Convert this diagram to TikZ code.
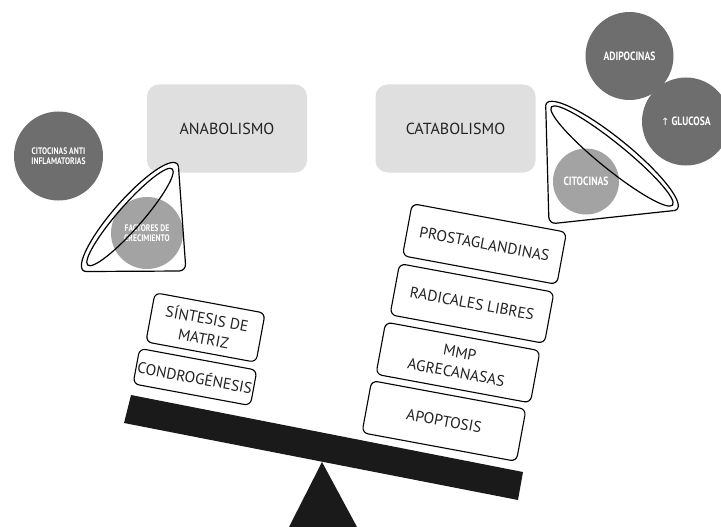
\documentclass[tikz,border=0pt]{standalone}
\usepackage{fontspec}
\setmainfont{PT Sans}
\newfontfamily\narrowfont[FakeStretch=0.8]{PT Sans Bold}
\newfontfamily\symfont{DejaVu Sans}
\definecolor{boxgray}{HTML}{DFDFDF}
\definecolor{darkcirc}{HTML}{6E6E6E}
\definecolor{lightcirc}{HTML}{A3A3A3}
\definecolor{beamcol}{HTML}{1A1A1A}
\definecolor{txt}{HTML}{222222}
\begin{document}
\begin{tikzpicture}[x=1pt,y=-1pt,
  headbox/.style={fill=boxgray, rounded corners=12pt, minimum width=160pt, minimum height=88pt, text=txt, font=\fontsize{16}{18}\selectfont},
  tiltbox/.style={draw=black, line width=1.1pt, fill=white, rounded corners=6pt, rotate=-10.5, align=center, text=txt, font=\fontsize{15.5}{20}\selectfont, inner sep=1.5pt},
  darkbubble/.style={circle, fill=darkcirc, text=white, align=center, inner sep=0pt, font=\narrowfont\fontsize{9.5}{11}\selectfont},
  lightbubble/.style={circle, fill=lightcirc, text=white, align=center, inner sep=0pt, font=\narrowfont\fontsize{9.5}{11}\selectfont},
  bigtext/.style={font=\narrowfont\fontsize{12}{13}\selectfont},
  rim/.style={line width=1.2pt, draw=black},
]
\useasboundingbox (0,0) rectangle (721,527);

% header boxes
\node[headbox] (ana) at (227,128.5) {ANABOLISMO};
\node[headbox] (cata) at (455.5,128.5) {CATABOLISMO};

% cone fills (white)
\begin{scope}[shift={(130,217)}, rotate=48.7]
  \fill[white] (-3.6,77.7) -- plot[domain=168:373.28, samples=90] ({71*cos(\x)},{17*sin(\x)}) -- cycle;
\end{scope}
\begin{scope}[shift={(612,156)}, rotate=-39]
  \fill[white] (-6.2,92.5) -- plot[domain=169.6:372.04, samples=90] ({84*cos(\x)},{18*sin(\x)}) -- cycle;
\end{scope}

% bubbles
\node[darkbubble, minimum size=89pt] (antiinf) at (58.5,156) {CITOCINAS ANTI\\[-1.5pt]INFLAMATORIAS};
\node[lightbubble, minimum size=72pt] (factores) at (147,233) {FACTORES DE\\[-1.5pt]CRECIMIENTO};
\node[lightbubble, bigtext, minimum size=66pt] (citocinas) at (586,181.5) {CITOCINAS};
\node[darkbubble, bigtext, minimum size=88pt] (adipo) at (629.5,56) {ADIPOCINAS};
\node[darkbubble, bigtext, minimum size=88pt] (gluc) at (686,121.5) {{\symfont\fontsize{10}{11}\selectfont ↑}\,GLUCOSA};

% cone outlines
\begin{scope}[shift={(130,217)}, rotate=48.7]
  \draw[rim] plot[domain=168:373.28, samples=90] ({71*cos(\x)},{17*sin(\x)});
  \draw[rim, rounded corners=7pt] (69.1,3.905) -- (-3.6,77.7) -- (-69.45,3.53);
  \draw[rim] (0,0) ellipse [x radius=64, y radius=12];
\end{scope}
\begin{scope}[shift={(612,156)}, rotate=-39]
  \draw[rim] plot[domain=169.6:372.04, samples=90] ({84*cos(\x)},{18*sin(\x)});
  \draw[rim, rounded corners=7pt] (82.15,3.75) -- (-6.2,92.5) -- (-82.6,3.25);
  \draw[rim] (0,0) ellipse [x radius=78, y radius=13];
\end{scope}

% seesaw
\fill[beamcol] (131,395) -- (523,472) -- (518,500) -- (124,423) -- cycle;
\fill[beamcol] (322,462) -- (357,527) -- (289,527) -- cycle;

% left stack
\node[tiltbox, minimum width=112pt, minimum height=50pt] (sintesis) at (205.5,327.5) {SÍNTESIS DE\\MATRIZ};
\node[tiltbox, minimum width=117pt, minimum height=36pt] (condro) at (195,377) {CONDROGÉNESIS};

% right stack
\node[tiltbox, minimum width=157pt, minimum height=53pt] (prosta) at (484.5,244) {PROSTAGLANDINAS};
\node[tiltbox, minimum width=157pt, minimum height=52pt] (radic) at (472,303.5) {RADICALES LIBRES};
\node[tiltbox, minimum width=157pt, minimum height=53pt] (mmp) at (458,362.5) {MMP\\AGRECANASAS};
\node[tiltbox, minimum width=157pt, minimum height=53pt] (apop) at (444,421) {APOPTOSIS};
\end{tikzpicture}
\end{document}
